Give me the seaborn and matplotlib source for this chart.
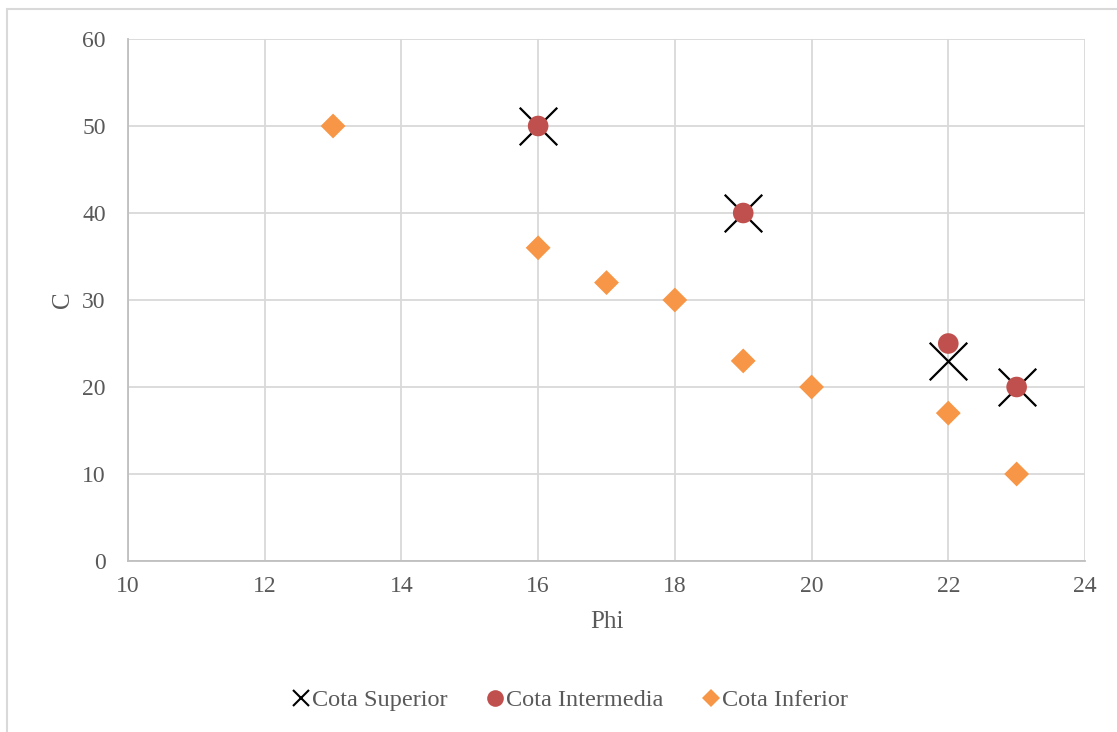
import matplotlib
matplotlib.use("Agg")
import matplotlib.pyplot as plt
import seaborn as sns
import pandas as pd
from matplotlib.lines import Line2D
from matplotlib.patches import Rectangle

# data
sup_phi = [16, 19, 22, 23]
sup_c = [50, 40, 23, 20]
int_phi = [16, 19, 22, 23]
int_c = [50, 40, 25, 20]
inf_phi = [13, 16, 17, 18, 19, 20, 22, 23]
inf_c = [50, 36, 32, 30, 23, 20, 17, 10]

sns.set_theme(style="white")
plt.rcParams['font.family'] = ['Liberation Serif', 'DejaVu Serif']
txt = '#595959'
grid = '#d9d9d9'

fig = plt.figure(figsize=(11.17, 7.32), dpi=100)
ax = fig.add_axes([128/1117, 1-561/732, (1085-128)/1117, (561-39)/732])

# chart border (left + top only visible)
fig.patches.append(Rectangle((7/1117, -0.5), 2, 1.5-9/732, transform=fig.transFigure,
                             fill=False, edgecolor='#d9d9d9', linewidth=1.5))

sns.scatterplot(x=sup_phi, y=sup_c, marker='x', s=730, color='black', linewidth=1.6, ax=ax, zorder=3)
sns.scatterplot(x=int_phi, y=int_c, marker='o', s=220, color='#C0504D', edgecolor='none', ax=ax, zorder=4)
sns.scatterplot(x=inf_phi, y=inf_c, marker='D', s=160, color='#F79646', edgecolor='none', ax=ax, zorder=5)

ax.set_xlim(10, 24)
ax.set_ylim(0, 60)
ax.set_xticks(range(10, 25, 2))
ax.set_yticks(range(0, 61, 10))
ax.grid(True, color=grid, linewidth=1.3)
ax.set_axisbelow(True)
for side in ['top', 'right']:
    ax.spines[side].set_visible(False)
for side in ['left', 'bottom']:
    ax.spines[side].set_color('#bfbfbf')
    ax.spines[side].set_linewidth(1.3)
ax.tick_params(axis='both', length=0, labelsize=17, colors=txt)
ax.tick_params(axis='y', pad=16)
ax.tick_params(axis='x', pad=11)
ax.set_xlabel('Phi', fontsize=18, color=txt, labelpad=10)
ax.set_ylabel('C', fontsize=18, color=txt, labelpad=6)

handles = [
    Line2D([], [], marker='x', color='black', linestyle='none', markersize=11, markeredgewidth=1.5),
    Line2D([], [], marker='o', color='#C0504D', linestyle='none', markersize=12, markeredgewidth=0),
    Line2D([], [], marker='D', color='#F79646', linestyle='none', markersize=9.5, markeredgewidth=0),
]
labels = ['Cota Superior', 'Cota Intermedia', 'Cota Inferior']
leg = fig.legend(handles, labels, loc='center', bbox_to_anchor=(570/1117, 1-700/732), ncol=3,
                 frameon=False, fontsize=17.5, handlelength=0.7, handletextpad=0.1, columnspacing=1.6)
for t in leg.get_texts():
    t.set_color(txt)

fig.savefig('out.png', dpi=100)
